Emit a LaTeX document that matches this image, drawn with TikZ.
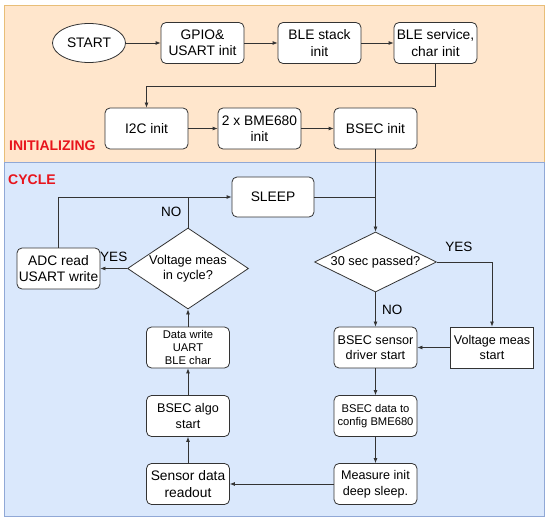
\documentclass[tikz,border=0pt]{standalone}
\usepackage{fontspec}
\setmainfont{Liberation Sans}
\usetikzlibrary{shapes.geometric,arrows.meta}
\definecolor{initfill}{HTML}{FFE6CC}
\definecolor{initline}{HTML}{E8BE78}
\definecolor{cyclefill}{HTML}{DAE8FC}
\definecolor{cycleline}{HTML}{90A8D6}
\definecolor{stagered}{HTML}{E8141C}
\definecolor{flowline}{HTML}{333333}

\begin{document}
\begin{tikzpicture}[x=1pt,y=-1pt,
  block/.style={draw=flowline,line width=0.8pt,fill=white,rounded corners=5pt,
    minimum width=83pt,minimum height=41pt,align=center,inner sep=1pt,
    font=\fontsize{13.8}{16.5}\selectfont},
  sqblock/.style={block,rounded corners=0pt},
  midtext/.style={font=\fontsize{12.6}{15.5}\selectfont},
  smalltext/.style={font=\fontsize{11.2}{13}\selectfont},
  decision/.style={diamond,draw=flowline,line width=0.8pt,fill=white,align=center,
    inner sep=0pt,font=\fontsize{12.8}{15.5}\selectfont},
  flow/.style={draw=flowline,line width=0.8pt,-{Latex[length=5pt,width=4pt]}},
  merge/.style={draw=flowline,line width=0.8pt},
  stage/.style={text=stagered,font=\bfseries\fontsize{14}{16}\selectfont,anchor=west,inner sep=0pt},
  tag/.style={font=\fontsize{13.5}{15}\selectfont}]
  \useasboundingbox (0,0) rectangle (550,524);
  \draw[initline,line width=0.8pt,fill=initfill] (4.5,5.5) rectangle (544.5,162);
  \draw[cycleline,line width=0.8pt,fill=cyclefill] (4.5,162) rectangle (544.5,516.5);
  \node[stage] (initlabel) at (9,146) {INITIALIZING};
  \node[stage] (cyclelabel) at (8,180) {CYCLE};

  % initializing
  \node[ellipse,draw=flowline,line width=0.8pt,fill=white,minimum width=73pt,minimum height=39pt,
    inner sep=0pt,font=\fontsize{13.8}{16.5}\selectfont] (start) at (89,43) {START};
  \node[block] (gpio) at (202.5,43) {GPIO\&\\USART init};
  \node[block] (stack) at (319.5,43) {BLE stack\\init};
  \node[block] (service) at (435.5,43) {BLE service,\\char init};
  \node[block] (i2c) at (146.5,128.5) {I2C init};
  \node[block] (bme) at (259.5,128.5) {2 x BME680\\init};
  \node[block] (bsecinit) at (375.5,128.5) {BSEC init};

  % cycle
  \node[block,minimum width=82pt,minimum height=40pt] (sleep) at (273,197) {SLEEP};
  \node[decision,aspect=2,minimum width=122pt,minimum height=60pt] (passed) at (375.5,262) {30 sec passed?};
  \node[block,midtext] (driver) at (375.5,347.5) {BSEC sensor\\driver start};
  \node[sqblock,midtext] (vmeas) at (492,347.5) {Voltage meas\\start};
  \node[block,smalltext] (config) at (375.5,416) {BSEC data to\\config BME680};
  \node[block,midtext] (measure) at (375.5,484) {Measure init\\deep sleep.};
  \node[block] (readout) at (188,484) {Sensor data\\readout};
  \node[block,midtext] (algo) at (188,416) {BSEC algo\\start};
  \node[block,smalltext] (write) at (188,347.5) {Data write\\UART\\BLE char};
  \node[decision,aspect=1.5,minimum width=121pt,minimum height=81pt] (incycle) at (188,268.5) {Voltage meas\\in cycle?};
  \node[block] (adc) at (58.5,268.5) {ADC read\\USART write};

  \draw[flow] (start) -- (gpio);
  \draw[flow] (gpio) -- (stack);
  \draw[flow] (stack) -- (service);
  \draw[flow] (service.south) -- ++(0,22.5) -| (i2c.north);
  \draw[flow] (i2c) -- (bme);
  \draw[flow] (bme) -- (bsecinit);
  \draw[flow] (bsecinit) -- (passed);
  \draw[merge] (sleep.east) -- (sleep.east -| passed.north);
  \draw[flow] (passed) -- (driver) node[midway,right=3pt,tag] {NO};
  \draw[flow] (passed.east) -| (vmeas.north) node[pos=0.2,above=7pt,tag] {YES};
  \draw[flow] (vmeas) -- (driver);
  \draw[flow] (driver) -- (config);
  \draw[flow] (config) -- (measure);
  \draw[flow] (measure) -- (readout);
  \draw[flow] (readout) -- (algo);
  \draw[flow] (algo) -- (write);
  \draw[flow] (write) -- (incycle);
  \draw[flow] (incycle) -- (adc) node[midway,above=3pt,tag] {YES};
  \draw[flow] (adc.north) |- (sleep.west);
  \draw[merge] (incycle.north) -- (incycle.north |- sleep.west) node[midway,left=3pt,tag] {NO};
\end{tikzpicture}
\end{document}
